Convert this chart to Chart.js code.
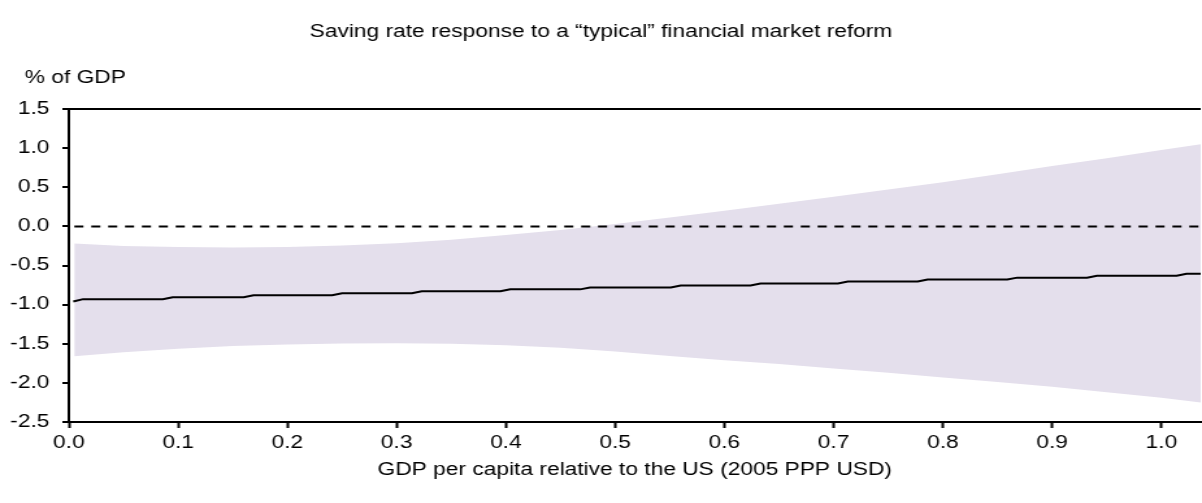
<!DOCTYPE html>
<html>
<head>
<meta charset="utf-8">
<title>Saving rate response</title>
<script src="https://cdn.jsdelivr.net/npm/chart.js@4/dist/chart.umd.min.js"></script>
<style>
  html, body { margin: 0; padding: 0; background: #fff; overflow: hidden; }
  /* the original figure is a horizontally stretched export, so draw narrow and stretch */
  #wrap {
    position: relative;
    width: 925px;
    height: 503px;
    transform: scaleX(1.29946);
    transform-origin: 0 0;
  }
</style>
</head>
<body>
<div id="wrap"><canvas id="chart"></canvas></div>
<script>
// ── Data ─────────────────────────────────────────────────────
const xBand     = [0.005, 0.05, 0.10, 0.15, 0.20, 0.25, 0.30, 0.35, 0.40, 0.45, 0.50,
                   0.55, 0.60, 0.65, 0.70, 0.75, 0.80, 0.85, 0.90, 0.95, 1.00, 1.036];
const bandUpper = [-0.22, -0.25, -0.265, -0.27, -0.265, -0.245, -0.215, -0.17, -0.11, -0.045, 0.03,
                   0.115, 0.20, 0.29, 0.38, 0.47, 0.565, 0.665, 0.77, 0.87, 0.975, 1.05];
const bandLower = [-1.66, -1.61, -1.565, -1.53, -1.51, -1.497, -1.495, -1.50, -1.52, -1.55, -1.60,
                   -1.655, -1.71, -1.76, -1.815, -1.87, -1.93, -1.99, -2.05, -2.12, -2.19, -2.25];

// step-like point estimate
const xLine = [0.004, 0.013, 0.086, 0.095, 0.160, 0.169, 0.241, 0.250, 0.314, 0.323,
               0.395, 0.404, 0.468, 0.477, 0.551, 0.560, 0.624, 0.633, 0.704, 0.713,
               0.777, 0.786, 0.859, 0.868, 0.932, 0.941, 1.014, 1.023, 1.036];
const yLine = [-0.96, -0.93, -0.93, -0.905, -0.905, -0.88, -0.88, -0.855, -0.855, -0.83,
               -0.83, -0.805, -0.805, -0.78, -0.78, -0.755, -0.755, -0.73, -0.73, -0.705,
               -0.705, -0.68, -0.68, -0.655, -0.655, -0.63, -0.63, -0.605, -0.605];

const xZero = [0.005, 1.036];
const yZero = [0, 0];

const xTicks = [0.0, 0.1, 0.2, 0.3, 0.4, 0.5, 0.6, 0.7, 0.8, 0.9, 1.0];
const yTicks = [-2.5, -2.0, -1.5, -1.0, -0.5, 0.0, 0.5, 1.0, 1.5];
const xMax = 1.036;

const TITLE   = "Saving rate response to a \u201ctypical\u201d financial market reform";
const Y_LABEL = "% of GDP";
const X_LABEL = "GDP per capita relative to the US (2005 PPP USD)";

// ── Helpers ──────────────────────────────────────────────────
const FONT = "'Liberation Sans', Arial, sans-serif";
const BAND = "#e4dfec";
const pts = (xs, ys) => xs.map((x, i) => ({ x, y: ys[i] }));

// "% of GDP" sits above the axis, not rotated
const unitLabel = {
  id: "unitLabel",
  afterDraw(chart) {
    const ctx = chart.ctx;
    ctx.save();
    ctx.font = "17.5px " + FONT;
    ctx.fillStyle = "#000";
    ctx.textBaseline = "middle";
    ctx.textAlign = "left";
    ctx.fillText(Y_LABEL, 19, 78.5);
    ctx.restore();
  }
};

// ── Chart ────────────────────────────────────────────────────
Chart.defaults.font.family = FONT;
Chart.defaults.font.size = 17.5;
Chart.defaults.color = "#000";

new Chart(document.getElementById("chart"), {
  type: "line",
  data: {
    datasets: [
      {
        data: pts(xLine, yLine),
        borderColor: "#000",
        borderWidth: 2,
        pointRadius: 0,
        fill: false,
        order: 0
      },
      {
        data: pts(xZero, yZero),
        borderColor: "#000",
        borderWidth: 2,
        borderDash: [7, 6],
        pointRadius: 0,
        fill: false,
        order: 1
      },
      {
        data: pts(xBand, bandUpper),
        borderWidth: 0,
        borderColor: BAND,
        backgroundColor: BAND,
        pointRadius: 0,
        fill: "+1",
        order: 2
      },
      {
        data: pts(xBand, bandLower),
        borderWidth: 0,
        borderColor: BAND,
        backgroundColor: BAND,
        pointRadius: 0,
        fill: false,
        order: 3
      }
    ]
  },
  options: {
    responsive: true,
    maintainAspectRatio: false,
    animation: false,
    layout: { padding: { top: 0, right: 0, bottom: 13, left: 0 } },
    plugins: {
      legend: { display: false },
      tooltip: { enabled: false },
      filler: { drawTime: "beforeDatasetsDraw" },
      title: {
        display: true,
        text: TITLE,
        color: "#000",
        font: { size: 17.5, weight: "normal", family: FONT },
        padding: { top: 21.5, bottom: 66.5 }
      }
    },
    scales: {
      x: {
        type: "linear",
        min: 0,
        max: xMax,
        afterBuildTicks: s => { s.ticks = xTicks.map(v => ({ value: v })); },
        ticks: {
          padding: 5,
          maxRotation: 0,
          autoSkip: false,
          callback: v => Number(v).toFixed(1)
        },
        grid: {
          drawOnChartArea: false,
          tickLength: 6,
          tickWidth: 2,
          tickColor: "#000"
        },
        border: { display: true, color: "#000", width: 2 },
        title: {
          display: true,
          text: X_LABEL,
          color: "#000",
          font: { size: 17.5, family: FONT },
          padding: { top: 1, bottom: 9 }
        }
      },
      y: {
        min: -2.5,
        max: 1.5,
        afterBuildTicks: s => { s.ticks = yTicks.map(v => ({ value: v })); },
        afterFit: s => { s.width = 53; },
        ticks: {
          padding: 10,
          autoSkip: false,
          callback: v => Number(v).toFixed(1)
        },
        grid: {
          // only the top frame line at 1.5 is drawn across the plot
          color: c => (c.tick && c.tick.value === 1.5) ? "#000" : "rgba(0,0,0,0)",
          lineWidth: 2,
          tickLength: 5,
          tickWidth: 2,
          tickColor: "#000"
        },
        border: { display: true, color: "#000", width: 2 }
      }
    }
  },
  plugins: [unitLabel]
});
</script>
</body>
</html>
